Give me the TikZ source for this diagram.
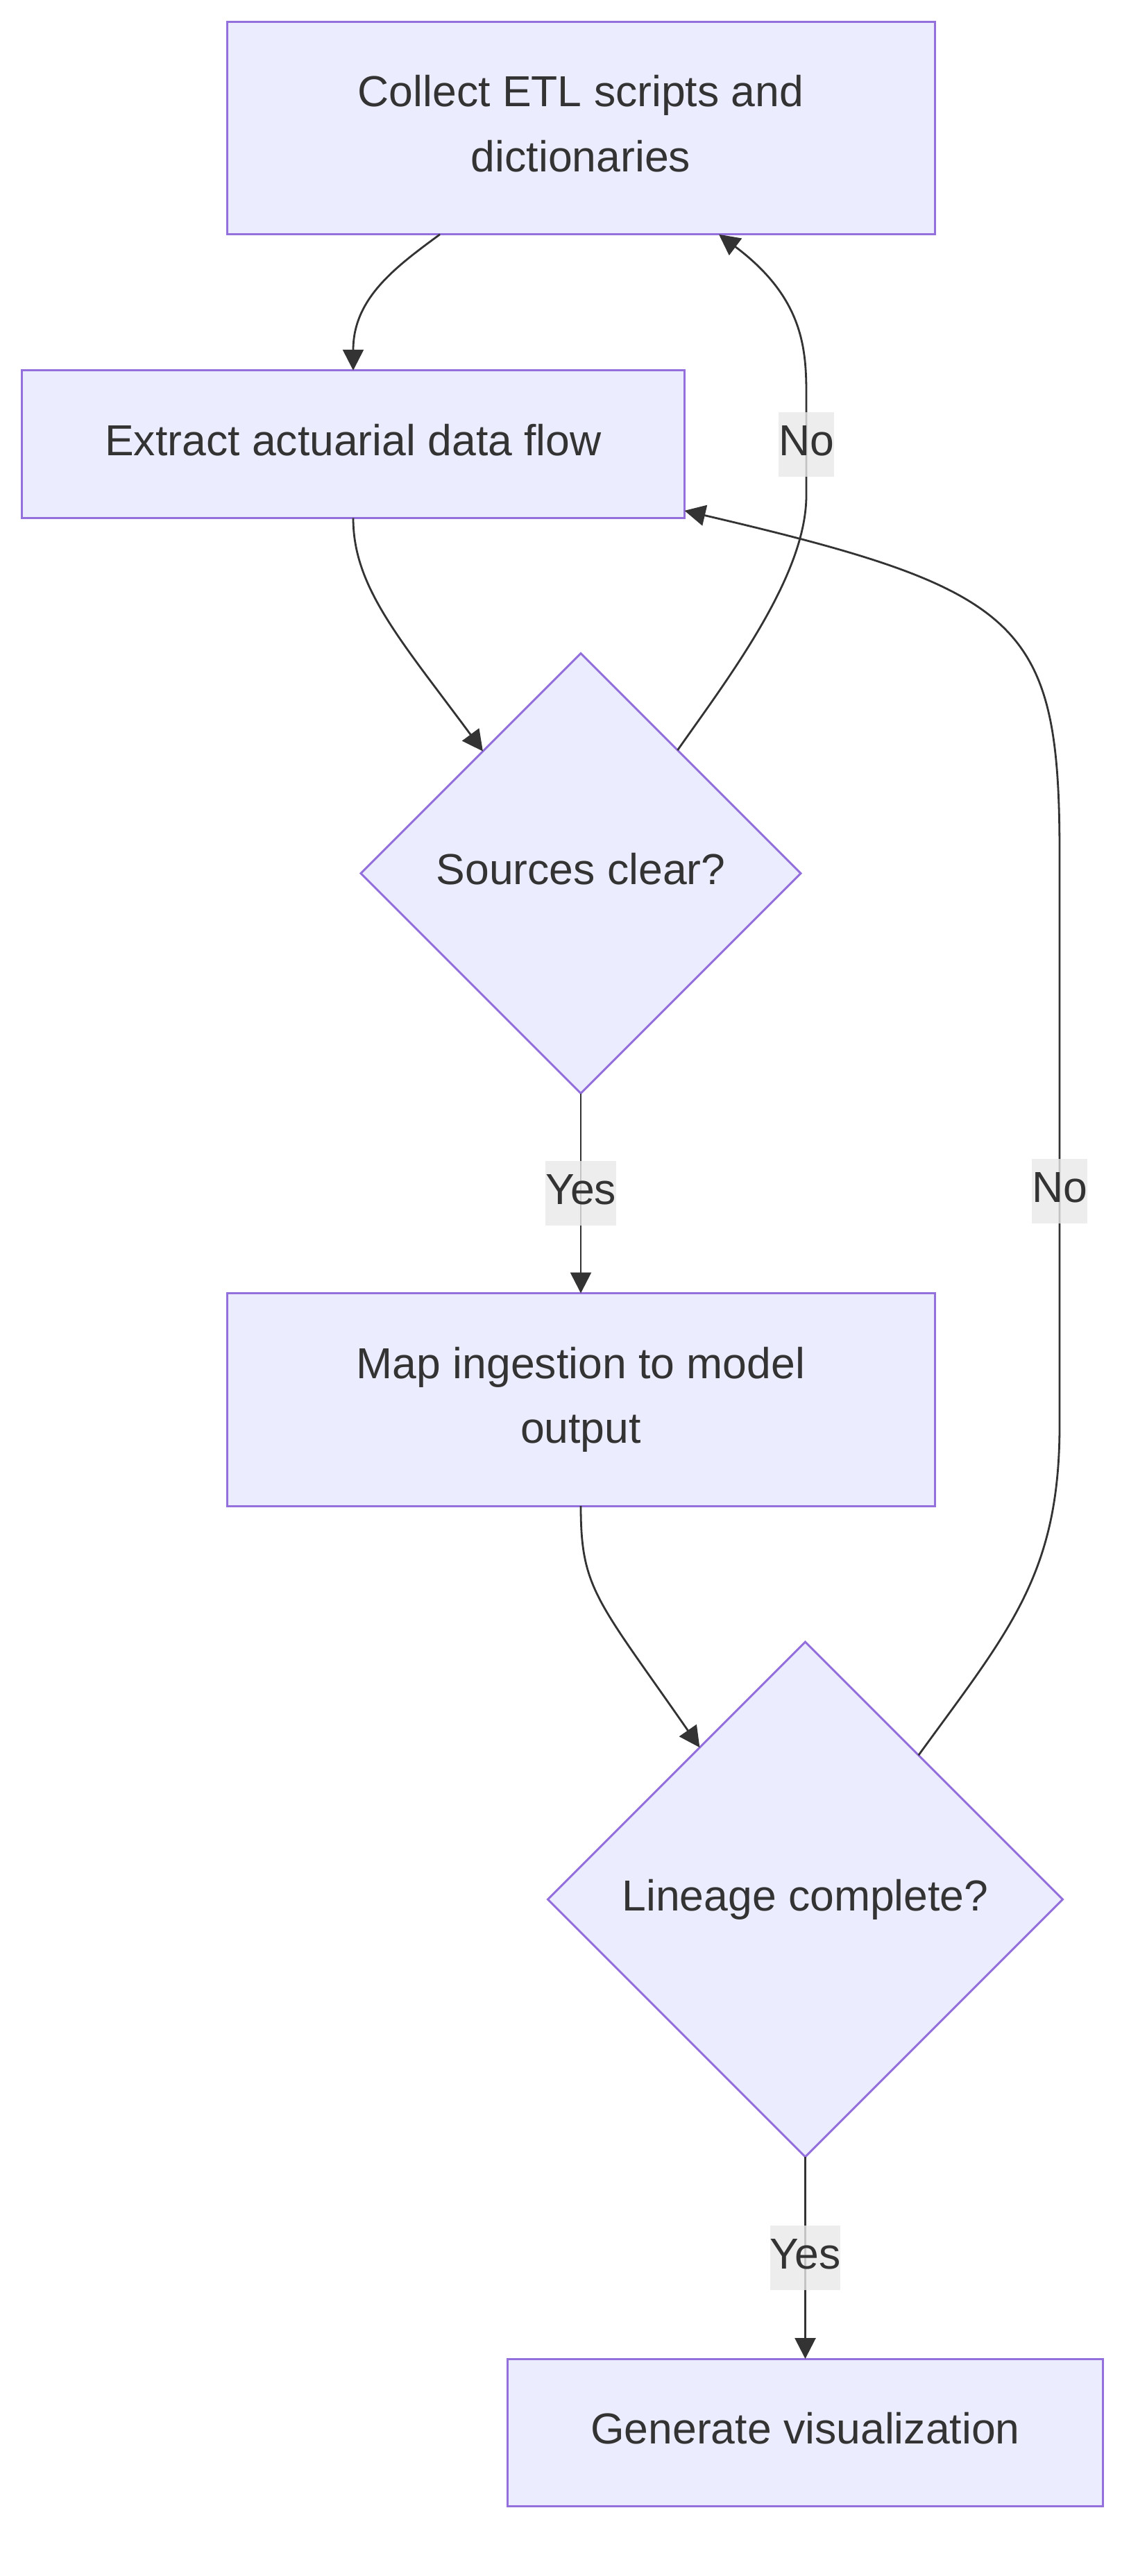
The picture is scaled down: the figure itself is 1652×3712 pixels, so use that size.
\documentclass[tikz,border=0pt]{standalone}
\usepackage{fontspec}
\setmainfont{Liberation Sans}
\usepackage{xcolor}
\usepackage{tikz}
\usetikzlibrary{arrows.meta,calc,positioning,shapes.geometric}
\definecolor{boxfill}{HTML}{ECECFF}
\definecolor{boxline}{HTML}{9370DB}
\definecolor{ink}{HTML}{333333}
\definecolor{lblfill}{HTML}{E8E8E8}
\newcommand{\tstrut}{\rule[-30.75pt]{0pt}{93.75pt}}

\begin{document}
\begin{tikzpicture}[x=1pt,y=-1pt,node distance=196pt,
  txt/.style={font=\fontsize{62.5pt}{93.75pt}\selectfont,text=ink,align=center,inner sep=0pt,outer sep=0pt,
    execute at begin node=\tstrut,execute at end node=\tstrut},
  proc/.style={txt,draw=boxline,line width=3pt,fill=boxfill,inner ysep=59.5pt,minimum width=#1},
  decision/.style={txt,diamond,aspect=1,draw=boxline,line width=3pt,fill=boxfill,minimum width=#1,minimum height=#1},
  lbl/.style={txt,fill=lblfill,fill opacity=0.8,text opacity=1},
  flow/.style={draw=ink,line width=2.8pt,-{Triangle[length=30pt,width=30pt]}}]
  \useasboundingbox (0,0) rectangle (1652,3712);
  \node[proc=1020pt] (collect) at (837,184.5) {\tstrut Collect ETL scripts and\\dictionaries\tstrut};
  \node[proc=955pt,below=of collect,xshift=-328pt] (extract) {Extract actuarial data flow};
  \node[decision=634pt,below=195pt of extract,xshift=328pt] (sources) {Sources clear?};
  \node[proc=1020pt,below=288pt of sources] (mapping) {\tstrut Map ingestion to model\\output\tstrut};
  \node[decision=742pt,below=of mapping,xshift=323.5pt] (lineage) {Lineage complete?};
  \node[proc=858pt,below=291pt of lineage] (generate) {Generate visualization};
  \draw[flow] ([xshift=-203pt]collect.south) .. controls +(-64,47) and +(0,-104) .. (extract.north);
  \draw[flow] (extract.south) .. controls +(0,100) and +(-119,-161) .. ($(sources.north)!0.445!(sources.west)$);
  \draw[flow] ($(sources.north)!0.44!(sources.east)$) .. controls +(73,-104) and +(0,116) .. (1162,714)
    -- node[lbl]{No} (1162,567) .. controls +(0,-67) and +(120,90) .. ([xshift=199pt]collect.south);
  \draw[flow] (sources.south) -- node[lbl]{Yes} (mapping.north);
  \draw[flow] (mapping.south) .. controls +(0,120) and +(-148,-213) .. ($(lineage.north)!0.41!(lineage.west)$);
  \draw[flow] ($(lineage.north)!0.44!(lineage.east)$) .. controls +(130,-179) and +(0,215) .. (1527,2054)
    -- node[lbl,pos=0.41]{No} (1527,1231) .. controls +(0,-335) and +(488,114) .. ($(extract.east)!0.9!(extract.south east)$);
  \draw[flow] (lineage.south) -- node[lbl]{Yes} (generate.north);
\end{tikzpicture}
\end{document}
